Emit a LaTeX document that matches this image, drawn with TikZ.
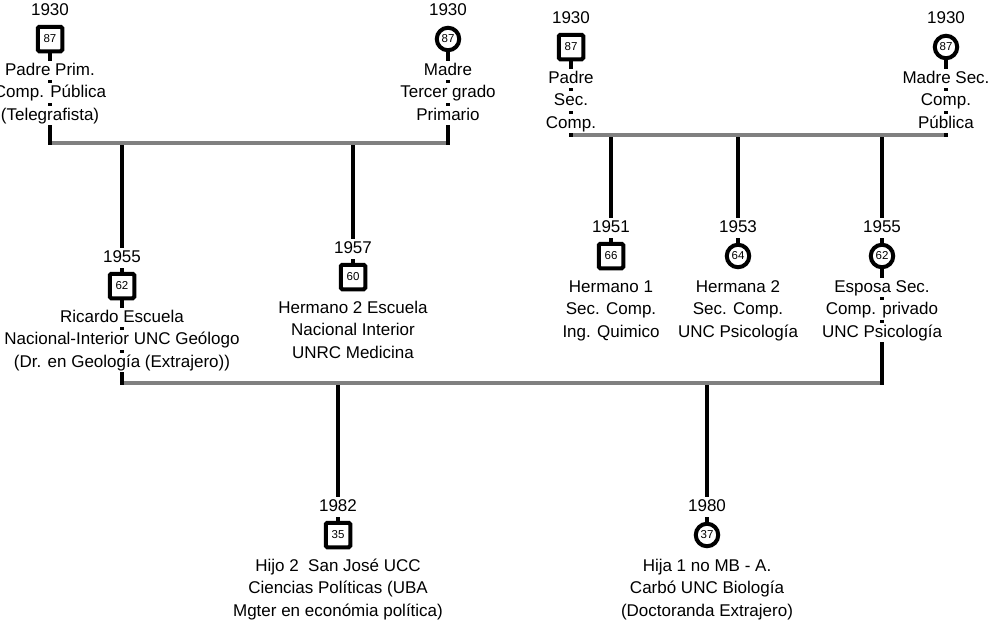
\documentclass[tikz,border=0pt]{standalone}
\usepackage{fontspec}
\setmainfont{Liberation Sans}
\usetikzlibrary{backgrounds}

\definecolor{unioncol}{RGB}{128,128,128}

\tikzset{
  txt/.style={fill=white, inner sep=0pt, text height=14.5pt, text depth=5pt,
              font=\fontsize{17}{20}\selectfont},
  male/.style={draw, rectangle, line width=4pt, minimum size=24.5pt, inner sep=0pt,
               rounded corners=1.5pt, fill=white, font=\fontsize{11.5}{12}\selectfont},
  female/.style={draw, circle, line width=4pt, minimum size=22.5pt, inner sep=0pt,
                 fill=white, font=\fontsize{11.5}{12}\selectfont},
  kin/.style={line width=3.6pt, draw=black},
  union/.style={line width=4pt, draw=unioncol},
}

% person: name, x, y of symbol, shape style, age, birth year, three text lines
\newcommand\person[9]{%
  \node[#4] (#1) at (#2,#3) {#5};
  \node[txt] (#1-year) at (#2,#3-28) {#6};
  \node[txt] (#1-a) at (#2,#3+31.5) {#7};
  \node[txt] (#1-b) at (#2,#3+54) {#8};
  \node[txt] (#1-c) at (#2,#3+76.5) {#9};
}

\begin{document}
\begin{tikzpicture}[x=1pt,y=-1pt]
\useasboundingbox (0,0) rectangle (989,624);

% first generation, left family
\person{padreA}{50}{39}{male}{87}{1930}{Padre Prim.}{Comp. Pública}{(Telegrafista)}
\person{madreA}{448}{39}{female}{87}{1930}{Madre}{Tercer grado}{Primario}

% first generation, right family
\person{padreB}{571}{47}{male}{87}{1930}{Padre}{Sec.}{Comp.}
\person{madreB}{946}{47}{female}{87}{1930}{Madre Sec.}{Comp.}{Pública}

% second generation
\person{ricardo}{122}{286}{male}{62}{1955}{Ricardo Escuela}{Nacional-Interior UNC Geólogo}{(Dr. en Geología (Extrajero))}
\person{hermanoA}{353}{277}{male}{60}{1957}{Hermano 2 Escuela}{Nacional Interior}{UNRC Medicina}
\person{hermanoB}{611}{256}{male}{66}{1951}{Hermano 1}{Sec. Comp.}{Ing. Quimico}
\person{hermanaB}{738}{256}{female}{64}{1953}{Hermana 2}{Sec. Comp.}{UNC Psicología}
\person{esposa}{882}{256}{female}{62}{1955}{Esposa Sec.}{Comp. privado}{UNC Psicología}

% third generation
\person{hijo}{338}{535}{male}{35}{1982}{Hijo 2\ \ San José UCC}{Ciencias Políticas (UBA}{Mgter en económia política)}
\person{hija}{707}{535}{female}{37}{1980}{Hija 1 no MB - A.}{Carbó UNC Biología}{(Doctoranda Extrajero)}

% marriage lines and descent lines
\coordinate (uA) at (0,143);
\coordinate (uAb) at (0,145);
\coordinate (uB) at (0,135);
\coordinate (uBb) at (0,137);
\coordinate (uC) at (0,383);
\coordinate (uCb) at (0,385);

\begin{pgfonlayer}{background}
  \draw[union] (padreA |- uA) -- (madreA |- uA);
  \draw[union] (padreB |- uB) -- (madreB |- uB);
  \draw[union] (ricardo |- uC) -- (esposa |- uC);

  \draw[kin] (padreA) -- (padreA |- uAb);
  \draw[kin] (madreA) -- (madreA |- uAb);
  \draw[kin] (padreB) -- (padreB |- uBb);
  \draw[kin] (madreB) -- (madreB |- uBb);

  \draw[kin] (ricardo |- uAb) -- (ricardo);
  \draw[kin] (hermanoA |- uAb) -- (hermanoA);
  \draw[kin] (hermanoB |- uBb) -- (hermanoB);
  \draw[kin] (hermanaB |- uBb) -- (hermanaB);
  \draw[kin] (esposa |- uBb) -- (esposa);

  \draw[kin] (ricardo) -- (ricardo |- uCb);
  \draw[kin] (esposa) -- (esposa |- uCb);
  \draw[kin] (hijo |- uCb) -- (hijo);
  \draw[kin] (hija |- uCb) -- (hija);
\end{pgfonlayer}
\end{tikzpicture}
\end{document}
